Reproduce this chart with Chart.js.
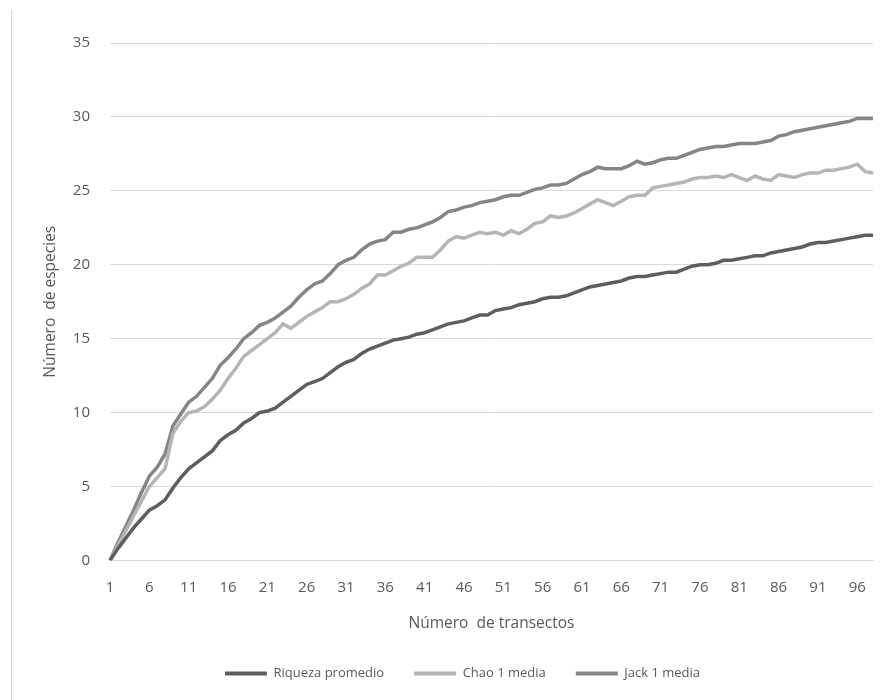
<!DOCTYPE html>
<html>
<head>
<meta charset="utf-8">
<script src="https://cdn.jsdelivr.net/npm/chart.js@4.4.1/dist/chart.umd.min.js"></script>
<style>
  html, body { margin: 0; padding: 0; background: #fff; }
  #wrap { position: relative; width: 894px; height: 700px; }
  #frame { position: absolute; left: 11px; top: 10px; width: 1px; height: 690px; background: #d9d9d9; }
  canvas { position: absolute; left: 0; top: 0; }
</style>
</head>
<body>
<div id="wrap">
  <div id="frame"></div>
  <canvas id="chart" width="894" height="700"></canvas>
</div>
<script>
// transect number 1..98 (category axis)
const transectos = Array.from({ length: 98 }, (_, i) => String(i + 1));

const riqueza = [
  0, 0.8, 1.5, 2.2, 2.8, 3.4, 3.7, 4.1, 4.9, 5.6,
  6.2, 6.6, 7.0, 7.4, 8.1, 8.5, 8.8, 9.3, 9.6, 10.0,
  10.1, 10.3, 10.7, 11.1, 11.5, 11.9, 12.1, 12.3, 12.7, 13.1,
  13.4, 13.6, 14.0, 14.3, 14.5, 14.7, 14.9, 15.0, 15.1, 15.3,
  15.4, 15.6, 15.8, 16.0, 16.1, 16.2, 16.4, 16.6, 16.6, 16.9,
  17.0, 17.1, 17.3, 17.4, 17.5, 17.7, 17.8, 17.8, 17.9, 18.1,
  18.3, 18.5, 18.6, 18.7, 18.8, 18.9, 19.1, 19.2, 19.2, 19.3,
  19.4, 19.5, 19.5, 19.7, 19.9, 20.0, 20.0, 20.1, 20.3, 20.3,
  20.4, 20.5, 20.6, 20.6, 20.8, 20.9, 21.0, 21.1, 21.2, 21.4,
  21.5, 21.5, 21.6, 21.7, 21.8, 21.9, 22.0, 22.0
];

const chao1 = [
  0, 1.0, 2.0, 3.0, 4.0, 5.0, 5.6, 6.2, 8.6, 9.4,
  10.0, 10.1, 10.4, 10.9, 11.5, 12.3, 13.0, 13.8, 14.2, 14.6,
  15.0, 15.4, 16.0, 15.7, 16.1, 16.5, 16.8, 17.1, 17.5, 17.5,
  17.7, 18.0, 18.4, 18.7, 19.3, 19.3, 19.6, 19.9, 20.1, 20.5,
  20.5, 20.5, 21.0, 21.6, 21.9, 21.8, 22.0, 22.2, 22.1, 22.2,
  22.0, 22.3, 22.1, 22.4, 22.8, 22.9, 23.3, 23.2, 23.3, 23.5,
  23.8, 24.1, 24.4, 24.2, 24.0, 24.3, 24.6, 24.7, 24.7, 25.2,
  25.3, 25.4, 25.5, 25.6, 25.8, 25.9, 25.9, 26.0, 25.9, 26.1,
  25.9, 25.7, 26.0, 25.8, 25.7, 26.1, 26.0, 25.9, 26.1, 26.2,
  26.2, 26.4, 26.4, 26.5, 26.6, 26.8, 26.3, 26.2
];

const jack1 = [
  0, 1.2, 2.3, 3.4, 4.6, 5.7, 6.3, 7.2, 9.1, 9.9,
  10.7, 11.1, 11.7, 12.3, 13.2, 13.7, 14.3, 15.0, 15.4, 15.9,
  16.1, 16.4, 16.8, 17.2, 17.8, 18.3, 18.7, 18.9, 19.4, 20.0,
  20.3, 20.5, 21.0, 21.4, 21.6, 21.7, 22.2, 22.2, 22.4, 22.5,
  22.7, 22.9, 23.2, 23.6, 23.7, 23.9, 24.0, 24.2, 24.3, 24.4,
  24.6, 24.7, 24.7, 24.9, 25.1, 25.2, 25.4, 25.4, 25.5, 25.8,
  26.1, 26.3, 26.6, 26.5, 26.5, 26.5, 26.7, 27.0, 26.8, 26.9,
  27.1, 27.2, 27.2, 27.4, 27.6, 27.8, 27.9, 28.0, 28.0, 28.1,
  28.2, 28.2, 28.2, 28.3, 28.4, 28.7, 28.8, 29.0, 29.1, 29.2,
  29.3, 29.4, 29.5, 29.6, 29.7, 29.9, 29.9, 29.9
];

const seriesNames = ['Riqueza promedio', 'Chao 1 media', 'Jack 1 media'];
const seriesColors = ['#5e5e5e', '#b5b5b5', '#858585'];

const textColor = '#595959';
const fontFamily = '"Open Sans", "DejaVu Sans", sans-serif';

// Excel-ish legend: shift the centred legend a bit to the right
const legendShift = {
  id: 'legendShift',
  beforeDraw(chart) {
    chart.legend.left += 8;
    chart.legend.right += 8;
  }
};

const ctx = document.getElementById('chart').getContext('2d');

new Chart(ctx, {
  type: 'line',
  data: {
    labels: transectos,
    datasets: [riqueza, chao1, jack1].map((values, i) => ({
      label: seriesNames[i],
      data: values,
      borderColor: seriesColors[i],
      backgroundColor: seriesColors[i],
      borderWidth: 3.5,
      pointRadius: 0,
      tension: 0,
      fill: false
    }))
  },
  options: {
    responsive: false,
    animation: false,
    layout: { padding: { left: 36, right: 21, top: 43, bottom: 10 } },
    plugins: {
      tooltip: { enabled: false },
      legend: {
        position: 'bottom',
        labels: {
          color: textColor,
          font: { family: fontFamily, size: 13 },
          boxWidth: 42,
          boxHeight: 4,
          padding: 30,
          generateLabels: function(chart) {
            const items = Chart.defaults.plugins.legend.labels.generateLabels(chart);
            items.forEach(item => {
              item.lineWidth = 0;
              item.fillStyle = item.strokeStyle;
            });
            return items;
          }
        }
      }
    },
    scales: {
      x: {
        grid: { display: false, drawTicks: false },
        border: { display: true, color: '#d9d9d9', width: 1 },
        ticks: {
          color: textColor,
          font: { family: fontFamily, size: 15 },
          autoSkip: false,
          maxRotation: 0,
          padding: 18,
          callback: function(value, index) {
            return index % 5 === 0 ? this.getLabelForValue(value) : '';
          }
        },
        title: {
          display: true,
          text: 'Número  de transectos',
          color: textColor,
          font: { family: fontFamily, size: 15.5 },
          padding: { top: 0, bottom: 4 }
        }
      },
      y: {
        min: 0,
        max: 35,
        afterFit: function(scale) { scale.width = 74; },
        grid: { color: '#d9d9d9', lineWidth: 1, drawTicks: false },
        border: { display: false },
        ticks: {
          stepSize: 5,
          color: textColor,
          font: { family: fontFamily, size: 15 },
          padding: 20
        },
        title: {
          display: true,
          text: 'Número  de especies',
          color: textColor,
          font: { family: fontFamily, size: 15.5 },
          padding: { top: 5, bottom: 4 }
        }
      }
    }
  },
  plugins: [legendShift]
});
</script>
</body>
</html>
